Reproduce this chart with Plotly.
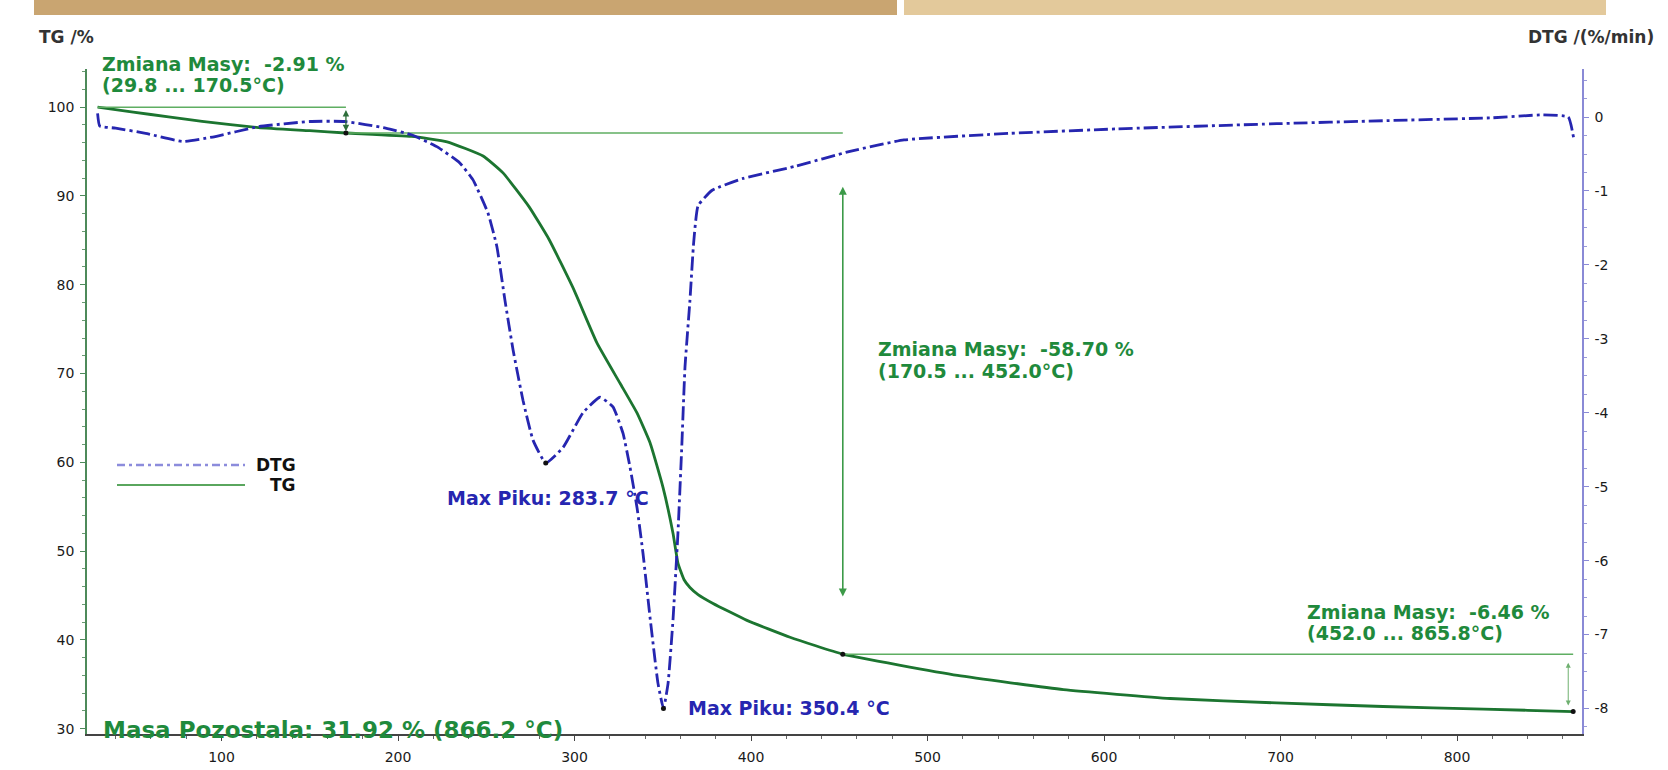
import plotly.graph_objects as go

# ---------------- data ----------------
tg_T = [29.8, 50, 70, 89, 121, 150, 170.5, 207.6, 227.8, 248.2, 259.5, 274.2, 285.6,
        299.5, 312.7, 325.8, 335.4, 342.8, 350.1, 355.8, 358.6, 362, 365.4, 370, 378.5,
        397.7, 422.1, 452.0, 517, 577, 637.5, 697.8, 758, 815, 865.8, 866.2]
tg_val = [100.0, 99.45, 98.9, 98.4, 97.7, 97.35, 97.09, 96.7, 96.1, 94.5, 92.6, 88.8, 85.1,
          79.5, 73.45, 68.9, 65.56, 62.2, 57.2, 52.0, 48.65, 46.8, 45.9, 45.1, 44.1,
          42.2, 40.3, 38.39, 36.0, 34.4, 33.4, 32.9, 32.5, 32.2, 31.93, 31.92]

dtg_T = [29.8, 31, 40, 57, 78, 95, 121, 150, 170, 193, 207.6, 222, 235, 242.5, 251, 256,
         260.6, 265.2, 270.8, 276.5, 283.7, 293.5, 304.8, 314.4, 321.8, 327.5, 331.4, 335.4,
         338.8, 342.8, 347.3, 350.4, 353, 355.8, 358.6, 360.7, 362.6, 365.4, 367.5, 370,
         378, 395.5, 424.4, 456.7, 486.7, 547, 607.4, 697.8, 758, 820, 848.5, 863, 866.2]
dtg_val = [0.05, -0.12, -0.15, -0.22, -0.33, -0.27, -0.13, -0.06, -0.06, -0.15, -0.24, -0.40,
           -0.62, -0.85, -1.30, -1.75, -2.48, -3.15, -3.83, -4.37, -4.68, -4.47, -4.0, -3.79,
           -3.92, -4.28, -4.73, -5.28, -5.9, -6.77, -7.66, -8.0, -7.66, -6.8, -5.63, -4.5,
           -3.38, -2.48, -1.7, -1.2, -0.99, -0.83, -0.67, -0.46, -0.31, -0.22, -0.16, -0.09,
           -0.05, -0.01, 0.03, 0.0, -0.3]

step_T = [29.8, 170.5, 452.0, 865.8]
step_TG = [100.0, 97.09, 38.39, 31.93]
peak_T = [283.7, 350.4]
peak_DTG = [-4.68, -8.0]

x_ticks = [100, 200, 300, 400, 500, 600, 700, 800]
tg_ticks = [30, 40, 50, 60, 70, 80, 90, 100]
dtg_ticks = [0, -1, -2, -3, -4, -5, -6, -7, -8]
dtg_ticktext = ["0", "-1", "-2", "-3", "-4", "-5", "-6", "-7", "-8"]

# ---------------- layout helpers ----------------
W, H = 1668, 770
L, R, T, B = 87, 1582, 69, 734
def px(x):
    return (x - L) / (R - L)
def py(y):
    return (B - y) / (B - T)

GREEN_TXT = "#1f8a3c"
GREEN_LN = "#5fae62"
BLUE = "#2626b0"
FONT = "DejaVu Sans, Verdana, sans-serif"

fig = go.Figure()

fig.add_trace(go.Scatter(x=tg_T, y=tg_val, mode="lines", yaxis="y",
                         line=dict(color="#1c7530", width=2.8, shape="spline", smoothing=0.4),
                         showlegend=False, hoverinfo="skip"))
fig.add_trace(go.Scatter(x=dtg_T, y=dtg_val, mode="lines", yaxis="y2",
                         line=dict(color=BLUE, width=2.8, dash="14px,4px,3px,4px",
                                   shape="spline", smoothing=0.4),
                         showlegend=False, hoverinfo="skip"))

# step guide lines
for (xa, xb, yv) in [(step_T[0], step_T[1], step_TG[0]),
                     (step_T[1], step_T[2], step_TG[1]),
                     (step_T[2], step_T[3], step_TG[2])]:
    fig.add_trace(go.Scatter(x=[xa, xb], y=[yv, yv], mode="lines",
                             line=dict(color=GREEN_LN, width=1.6),
                             showlegend=False, hoverinfo="skip"))

# markers
fig.add_trace(go.Scatter(x=step_T[1:], y=step_TG[1:], mode="markers", yaxis="y",
                         marker=dict(color="#111", size=5), showlegend=False, hoverinfo="skip"))
fig.add_trace(go.Scatter(x=peak_T, y=peak_DTG, mode="markers", yaxis="y2",
                         marker=dict(color="#111", size=5), showlegend=False, hoverinfo="skip"))

ann = []
def arrow(x, y0, y1, color, width):
    return dict(x=x, y=y1, ax=x, ay=y0, xref="x", yref="y", axref="x", ayref="y",
                showarrow=True, arrowhead=2, arrowside="end+start", arrowsize=1,
                arrowwidth=width, arrowcolor=color, text="")
ann.append(arrow(step_T[1], 99.85, 97.3, "#2d6e3a", 1.3))
ann.append(arrow(step_T[2], 91.2, 44.9, "#3c9a48", 1.6))
ann.append(arrow(863, 37.6, 32.6, "#6fb070", 1.0))

def txt(x, y, s, color, size, xanchor="left", bold=True):
    return dict(x=px(x), y=py(y), xref="paper", yref="paper", text=s, showarrow=False,
                xanchor=xanchor, yanchor="middle", align=xanchor,
                font=dict(family=FONT, size=size, color=color, weight=700 if bold else 400))

ann.append(txt(100, 64, "Zmiana Masy:  -2.91 %", GREEN_TXT, 19))
ann.append(txt(100, 85, "(29.8 ... 170.5°C)", GREEN_TXT, 19))
ann.append(txt(876, 349, "Zmiana Masy:  -58.70 %", GREEN_TXT, 19))
ann.append(txt(876, 371, "(170.5 ... 452.0°C)", GREEN_TXT, 19))
ann.append(txt(1305, 612, "Zmiana Masy:  -6.46 %", GREEN_TXT, 19))
ann.append(txt(1305, 633, "(452.0 ... 865.8°C)", GREEN_TXT, 19))
ann.append(txt(445, 498, "Max Piku: 283.7 °C", BLUE, 19))
ann.append(txt(686, 708, "Max Piku: 350.4 °C", BLUE, 19))
ann.append(txt(101, 730, "Masa Pozostala: 31.92 % (866.2 °C)", GREEN_TXT, 23))
ann.append(txt(37, 37, "TG /%", "#333", 17))
ann.append(txt(1656, 37, "DTG /(%/min)", "#333", 17, xanchor="right"))
ann.append(txt(298, 465, "DTG", "#111", 17, xanchor="right"))
ann.append(txt(298, 485, "TG", "#111", 17, xanchor="right"))

shapes = [
    dict(type="rect", xref="paper", yref="paper", x0=px(34), x1=px(897), y0=py(15), y1=py(0),
         fillcolor="#c9a571", line=dict(width=0), layer="above"),
    dict(type="rect", xref="paper", yref="paper", x0=px(904), x1=px(1606), y0=py(15), y1=py(0),
         fillcolor="#e3c99b", line=dict(width=0), layer="above"),
    dict(type="line", xref="paper", yref="paper", x0=px(117), x1=px(245), y0=py(465), y1=py(465),
         line=dict(color="#8c8cdc", width=2.4, dash="8px,4px,3px,4px")),
    dict(type="line", xref="paper", yref="paper", x0=px(117), x1=px(245), y0=py(485), y1=py(485),
         line=dict(color="#5aa65e", width=1.8)),
]

tickfont = dict(family=FONT, size=14, color="#1a1a1a")
fig.update_layout(
    width=W, height=H,
    margin=dict(l=L, r=W - R, t=T, b=H - B, autoexpand=False),
    paper_bgcolor="white", plot_bgcolor="white",
    showlegend=False,
    annotations=ann, shapes=shapes,
    xaxis=dict(range=[23.8, 870.8], tickvals=x_ticks, showgrid=False, zeroline=False,
               automargin=False,
               showline=True, linecolor="#444", linewidth=1.5, ticks="outside", ticklen=5,
               tickcolor="#444", tickfont=tickfont, ticklabelstandoff=4,
               minor=dict(dtick=20, ticks="outside", ticklen=3, tickcolor="#666")),
    yaxis=dict(range=[29.4, 104.3], tickvals=tg_ticks, showgrid=False, zeroline=False,
               automargin=False,
               showline=True, linecolor="#4d8a5a", linewidth=1.5, ticks="outside", ticklen=5,
               tickcolor="#4d8a5a", tickfont=tickfont, ticklabelstandoff=3,
               minor=dict(dtick=2, ticks="outside", ticklen=3, tickcolor="#6a9a72")),
    yaxis2=dict(range=[-8.345, 0.65], tickvals=dtg_ticks, ticktext=dtg_ticktext,
                overlaying="y", side="right", automargin=False,
                showgrid=False, zeroline=False, showline=True, linecolor="#8a8ad6", linewidth=1.5,
                ticks="outside", ticklen=5, tickcolor="#8a8ad6", tickfont=tickfont,
                ticklabelstandoff=3,
                minor=dict(dtick=0.25, ticks="outside", ticklen=3, tickcolor="#9a9ad8")),
)

fig.write_html("out.html", config={"displayModeBar": False},
               post_script="document.body.style.margin='0';document.body.style.overflow='hidden';")
